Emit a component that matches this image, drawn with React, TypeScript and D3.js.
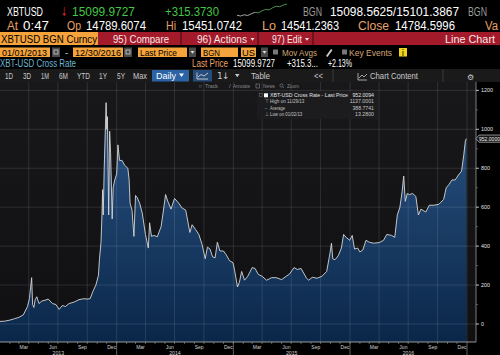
import * as d3 from "d3"
import type { ReactNode } from "react"

// XBT-USD cross rate (date, last price)
const priceDates = [
  "2013-01-01", "2013-01-15", "2013-02-01", "2013-02-15", "2013-03-01", "2013-03-15", "2013-03-28",
  "2013-04-03", "2013-04-10", "2013-04-13", "2013-04-17", "2013-04-21", "2013-04-26", "2013-05-03",
  "2013-05-12", "2013-05-22", "2013-06-01", "2013-06-14", "2013-06-25", "2013-07-05", "2013-07-15",
  "2013-07-25", "2013-08-05", "2013-08-20", "2013-09-05", "2013-09-20", "2013-10-01", "2013-10-10",
  "2013-10-18", "2013-10-28", "2013-11-05", "2013-11-08", "2013-11-13", "2013-11-16", "2013-11-18",
  "2013-11-20", "2013-11-23", "2013-11-29", "2013-12-01", "2013-12-03", "2013-12-07", "2013-12-10",
  "2013-12-13", "2013-12-18", "2013-12-21", "2013-12-26",
  "2014-01-01", "2014-01-05", "2014-01-10", "2014-01-18", "2014-01-26", "2014-02-05", "2014-02-09",
  "2014-02-12", "2014-02-18", "2014-02-24", "2014-03-01", "2014-03-06", "2014-03-14", "2014-03-22",
  "2014-04-01", "2014-04-10", "2014-04-14", "2014-04-20", "2014-04-28", "2014-05-08", "2014-05-20",
  "2014-05-27", "2014-06-03", "2014-06-10", "2014-06-20", "2014-07-01", "2014-07-12", "2014-07-25",
  "2014-08-05", "2014-08-18", "2014-08-25", "2014-09-05", "2014-09-15", "2014-09-25", "2014-10-05",
  "2014-10-12", "2014-10-20", "2014-10-28", "2014-11-05", "2014-11-12", "2014-11-20", "2014-12-01",
  "2014-12-10", "2014-12-20", "2014-12-31",
  "2015-01-05", "2015-01-14", "2015-01-20", "2015-01-27", "2015-02-05", "2015-02-15", "2015-03-01",
  "2015-03-10", "2015-03-20", "2015-04-01", "2015-04-15", "2015-05-01", "2015-05-15", "2015-06-01",
  "2015-06-15", "2015-06-25", "2015-07-10", "2015-07-20", "2015-08-01", "2015-08-18", "2015-08-25",
  "2015-09-05", "2015-09-20", "2015-10-05", "2015-10-20", "2015-10-30", "2015-11-04", "2015-11-08",
  "2015-11-15", "2015-11-25", "2015-12-05", "2015-12-12", "2015-12-20", "2015-12-31",
  "2016-01-08", "2016-01-15", "2016-01-25", "2016-02-01", "2016-02-10", "2016-02-20", "2016-03-01",
  "2016-03-15", "2016-04-01", "2016-04-15", "2016-04-25", "2016-05-10", "2016-05-20", "2016-05-28",
  "2016-06-05", "2016-06-12", "2016-06-17", "2016-06-22", "2016-06-28", "2016-07-05", "2016-07-15",
  "2016-07-25", "2016-08-02", "2016-08-10", "2016-08-25", "2016-09-05", "2016-09-20", "2016-10-05",
  "2016-10-20", "2016-10-28", "2016-11-05", "2016-11-15", "2016-11-25", "2016-12-05", "2016-12-15",
  "2016-12-22", "2016-12-27", "2016-12-30"
]
const priceValues = [
  13.3, 14.5, 20, 27, 34, 47, 90,
  130, 238, 100, 85, 125, 140, 105,
  118, 122, 128, 105, 100, 75, 95,
  90, 105, 112, 125, 130, 128, 130,
  165, 200, 250, 330, 420, 560, 690,
  560, 800, 1137, 1000, 1065, 560, 990,
  880, 540, 700, 740,
  770, 920, 840, 840, 815, 800, 740,
  620, 585, 450, 660, 650, 620, 570,
  460, 390, 520, 450, 455, 448, 500,
  580, 665, 630, 590, 645, 625, 595,
  585, 470, 510, 485, 460, 410, 335,
  395, 385, 345, 340, 420, 375, 375,
  355, 325, 315,
  275, 190, 215, 270, 225, 245, 290,
  285, 255, 245, 225, 238, 238, 228,
  245, 255, 290, 280, 285, 235, 225,
  240, 235, 245, 270, 360, 415, 335,
  330, 350, 390, 460, 445, 430,
  455, 385, 390, 370, 380, 430, 420,
  415, 418, 430, 460, 455, 445, 560,
  600, 680, 760, 630, 670, 665, 670,
  655, 560, 590, 575, 610, 610, 615,
  640, 700, 715, 740, 740, 765, 785,
  870, 940, 952
]

const yTicks = [0, 200, 400, 600, 800, 1000, 1200]
const yMinor = [100, 300, 500, 700, 900, 1100]
const monthLabels = ["Mar", "Jun", "Sep", "Dec"]
const years = [2013, 2014, 2015, 2016]
const sparkValues = [14640, 14610, 14660, 14630, 14700, 14760, 14740, 14820, 14880, 14860, 14950, 15010, 14990, 15060, 15100]

const legendRows = [
  { mark: "■", label: "XBT-USD Cross Rate - Last Price", value: "952.0094" },
  { mark: "⊤", label: "High on 11/29/13", value: "1137.0001" },
  { mark: "–", label: "Average", value: "388.7741" },
  { mark: "⊥", label: "Low on 01/02/13", value: "13.2800" }
]

const T = ({ x, y, w, s = 11, fill = "#fff", children, font }: {
  x: number; y: number; w?: number; s?: number; fill?: string; children: ReactNode; font?: string
}) => (
  <text x={x} y={y} fontSize={s} fill={fill} fontFamily={font}
    textLength={w} lengthAdjust={w ? "spacingAndGlyphs" : undefined}>
    {children}
  </text>
)

// small dropdown caret
const Caret = ({ x, y, s = 4, fill }: { x: number; y: number; s?: number; fill: string }) => (
  <path d={`M${x},${y} L${x + s},${y} L${x + s / 2},${y + s * 0.7} Z`} fill={fill} />
)

const App = () => {
  const W = 500
  const H = 355
  const plotTop = 82
  const plotBottom = 342
  const plotRight = 476

  const parse = d3.timeParse("%Y-%m-%d")
  const series = priceDates.map((d, i) => ({ date: parse(d) as Date, value: priceValues[i] }))

  const x = d3.scaleTime()
    .domain([new Date(2013, 0, 1), new Date(2017, 0, 1)])
    .range([0, 467])
  const y = d3.scaleLinear().domain([0, 1000]).range([324, 129.3])

  const area = d3.area<{ date: Date; value: number }>()
    .x(d => x(d.date))
    .y0(plotBottom)
    .y1(d => y(d.value))
  const line = d3.line<{ date: Date; value: number }>()
    .x(d => x(d.date))
    .y(d => y(d.value))

  const quarters = d3.timeMonth.every(3)!.range(new Date(2013, 3, 1), new Date(2017, 0, 2))
  const months = d3.timeMonth.range(new Date(2013, 1, 1), new Date(2017, 0, 1))

  // sparkline next to the headline quote
  const sx = d3.scaleLinear().domain([0, sparkValues.length - 1]).range([237, 287])
  const sy = d3.scaleLinear().domain(d3.extent(sparkValues) as [number, number]).range([16, 4])
  const spark = d3.line<[number, number]>().x(d => sx(d[0])).y(d => sy(d[1]))
  const sparkPts = sparkValues.map((v, i) => [i, v] as [number, number])

  const last = priceValues[priceValues.length - 1]
  const lastY = y(last)

  const tan = "#e8a26a"
  const orange = "#f5a33a"
  const red = "#a31a2b"
  const dejavu = "DejaVu Sans"

  return (
    <div style={{ position: "fixed", left: 0, top: 0, background: "#000" }}>
      <svg width={W} height={H} style={{ display: "block" }} fontFamily="Liberation Sans, Arial, sans-serif">
        <defs>
          <linearGradient id="fillGrad" gradientUnits="userSpaceOnUse" x1={0} y1={100} x2={0} y2={plotBottom}>
            <stop offset="0%" stopColor="#2b5485" />
            <stop offset="100%" stopColor="#0a2749" />
          </linearGradient>
          <linearGradient id="bgGrad" gradientUnits="userSpaceOnUse" x1={0} y1={plotTop} x2={0} y2={plotBottom}>
            <stop offset="0%" stopColor="#18181a" />
            <stop offset="100%" stopColor="#101012" />
          </linearGradient>
        </defs>
        <rect width={W} height={H} fill="#000" />

        {/* row 1: headline quote */}
        <T x={7} y={16} w={36} s={12.5}>XBTUSD</T>
        <T x={61} y={16} w={6} s={12.5} fill="#e0242a" font={dejavu}>↓</T>
        <T x={72} y={16} w={63} s={12.5} fill="#45c545">15099.9727</T>
        <T x={165} y={16} w={54} s={12.5} fill="#45c545">+315.3730</T>
        <path d={spark(sparkPts.slice(0, 6)) || ""} fill="none" stroke="#cfcfcf" strokeWidth={0.8} />
        <path d={spark(sparkPts.slice(5)) || ""} fill="none" stroke="#5fb25f" strokeWidth={0.8} />
        <T x={303} y={16} w={19} s={12.5} fill="#9b9b9b">BGN</T>
        <T x={330} y={16} w={129} s={12.5}>15098.5625/15101.3867</T>
        <T x={468} y={16} w={19} s={12.5} fill="#9b9b9b">BGN</T>

        {/* row 2 */}
        <T x={7} y={29.5} w={11} s={12.5} fill={tan}>At</T>
        <T x={23} y={29.5} w={26} s={12.5}>0:47</T>
        <T x={67} y={29.5} w={14} s={12.5} fill={tan}>Op</T>
        <T x={86} y={29.5} w={60} s={12.5}>14789.6074</T>
        <T x={166} y={29.5} w={10} s={12.5} fill={tan}>Hi</T>
        <T x={182} y={29.5} w={60} s={12.5}>15451.0742</T>
        <T x={262} y={29.5} w={14} s={12.5} fill={tan}>Lo</T>
        <T x={281} y={29.5} w={58} s={12.5}>14541.2363</T>
        <T x={358} y={29.5} w={31} s={12.5} fill={tan}>Close</T>
        <T x={395} y={29.5} w={60} s={12.5}>14784.5996</T>
        <T x={485} y={29.5} w={13} s={12.5} fill={tan}>Va</T>

        {/* row 3: security / action bar */}
        <rect x={0} y={32} width={98} height={13} fill={orange} />
        <T x={1} y={42.5} w={96} s={11.5} fill="#000">XBTUSD BGN Curncy</T>
        <rect x={98} y={32} width={402} height={13} fill={red} />
        {[181, 258, 313].map(v => <line key={v} x1={v} x2={v} y1={32} y2={45} stroke="#3a0a10" strokeWidth={1} />)}
        <T x={113} y={42.5} w={56} s={11.5} fill="#f6e6e6">95) Compare</T>
        <T x={197} y={42.5} w={50} s={11.5} fill="#f6e6e6">96) Actions</T>
        <Caret x={250.5} y={38} s={4} fill="#f6e6e6" />
        <T x={272} y={42.5} w={30} s={11.5} fill="#f6e6e6">97) Edit</T>
        <Caret x={305} y={38} s={4} fill="#f6e6e6" />
        <T x={445} y={42.5} w={50} s={11.5} fill="#f6e6e6">Line Chart</T>

        {/* row 4: range and field inputs */}
        <rect x={0} y={47.5} width={50} height={9.5} fill={orange} />
        <T x={2} y={55.5} w={45} s={9.5} fill="#000">01/01/2013</T>
        <rect x={52} y={47.5} width={8} height={9.5} fill="#4a4a4a" />
        <rect x={54} y={50} width={4} height={4} fill="none" stroke="#ddd" strokeWidth={0.7} />
        <T x={65} y={55.5} s={9.5} fill="#ddd">-</T>
        <rect x={73} y={47.5} width={50} height={9.5} fill={orange} />
        <T x={75} y={55.5} w={46} s={9.5} fill="#000">12/30/2016</T>
        <rect x={124} y={47.5} width={8} height={9.5} fill="#4a4a4a" />
        <rect x={126} y={50} width={4} height={4} fill="none" stroke="#ddd" strokeWidth={0.7} />
        <rect x={138} y={47.5} width={49} height={9.5} fill={orange} />
        <T x={140} y={55.5} w={37} s={9.5} fill="#000">Last Price</T>
        <rect x={189} y={47.5} width={7} height={9.5} fill="#4a4a4a" />
        <Caret x={190.5} y={51} s={4} fill="#ddd" />
        <rect x={201} y={47.5} width={37} height={9.5} fill={orange} />
        <T x={203} y={55.5} w={17} s={9.5} fill="#000">BGN</T>
        <rect x={241} y={47.5} width={15} height={9.5} fill={orange} />
        <T x={242} y={55.5} w={13} s={9.5} fill="#000">US</T>
        <rect x={261} y={47.5} width={7} height={9.5} fill="#4a4a4a" />
        <Caret x={262.5} y={51} s={4} fill="#ddd" />
        <rect x={273} y={49.5} width={5} height={5} fill="#777" />
        <T x={282} y={55.5} w={35} s={9.5} fill="#d2a676">Mov Avgs</T>
        <path d="M326,56 L331,49 L332.5,50 L327.5,57 Z" fill="#ccc" />
        <rect x={342} y={49.5} width={5} height={5} fill="#777" />
        <T x={349} y={55.5} w={43} s={9.5} fill="#d2a676">Key Events</T>
        <rect x={399} y={48} width={8} height={8.5} fill="#f2d21a" />
        <T x={401.8} y={55.5} s={8} fill="#000" font={dejavu}>i</T>

        {/* row 5: title strip */}
        <T x={0} y={67} w={76} s={10} fill="#6db7d6">XBT-USD Cross Rate</T>
        <T x={192} y={67} w={36} s={10} fill={tan}>Last Price</T>
        <T x={233} y={67} w={42} s={10}>15099.9727</T>
        <T x={287} y={67} w={31} s={10}>+315.3...</T>
        <T x={328} y={67} w={24} s={10}>+2.13%</T>

        {/* row 6: toolbar */}
        <rect x={0} y={69} width={W} height={13} fill="#1a1a1b" />
        {[
          ["1D", 5, 8], ["3D", 23, 8], ["1M", 41, 8], ["6M", 59, 9], ["YTD", 77, 13],
          ["1Y", 99, 8], ["5Y", 117, 8], ["Max", 133, 14]
        ].map(([t, px, w]) => (
          <T key={t as string} x={px as number} y={79} w={w as number} s={9} fill="#c9c9c9">{t}</T>
        ))}
        <rect x={152} y={70} width={37} height={11.5} fill="#2b63a6" />
        <T x={156} y={79} w={20} s={9}>Daily</T>
        <Caret x={179} y={73.5} s={5} fill="#fff" />
        <rect x={193} y={70} width={19} height={11.5} fill="#254c7a" />
        <path d="M197,79 L197,72.5 M197,79 L208,79 M198,77 L201,74.5 L204,76 L208,73" fill="none" stroke="#e8e8e8" strokeWidth={0.8} />
        <T x={217} y={79} s={9} fill="#c9c9c9" font={dejavu}>1</T>
        <T x={222} y={79} s={9} fill="#c9c9c9" font={dejavu}>↓</T>
        <Caret x={235} y={74} s={4.5} fill="#c9c9c9" />
        <T x={251} y={79} w={19} s={9} fill="#c9c9c9">Table</T>
        <T x={314} y={79} w={9} s={9} fill="#c9c9c9">{"<<"}</T>
        <line x1={333} x2={333} y1={69} y2={82} stroke="#3a3a3a" />
        <path d="M358,80 L358,73 M358,80 L367,80 M359,78 L362,75 L364,77 L367,74" fill="none" stroke="#c9c9c9" strokeWidth={0.8} />
        <T x={370} y={79} w={48} s={9} fill="#c9c9c9">Chart Content</T>
        <line x1={443} x2={443} y1={69} y2={82} stroke="#3a3a3a" />
        <T x={467} y={79.5} s={8} fill="#c9c9c9" font={dejavu}>⚙</T>

        {/* plot */}
        <rect x={0} y={plotTop} width={plotRight} height={plotBottom - plotTop} fill="url(#bgGrad)" />
        <path d={area(series) || ""} fill="url(#fillGrad)" />
        {yTicks.map(t => (
          <line key={t} x1={0} x2={plotRight} y1={y(t)} y2={y(t)} stroke="#fff" strokeOpacity={0.14} strokeWidth={0.8} />
        ))}
        {quarters.map(q => (
          <line key={+q} x1={x(q)} x2={x(q)} y1={plotTop} y2={plotBottom} stroke="#fff" strokeOpacity={0.14} strokeWidth={0.8} />
        ))}
        <path d={line(series) || ""} fill="none" stroke="#d6d6d6" strokeWidth={0.9} strokeLinejoin="round" />

        {/* row 7: track / annotate / news / zoom */}
        <T x={198} y={88} s={5} fill="#8a8a8a" font={dejavu}>☆</T>
        <T x={205} y={88} w={13} s={6} fill="#8a8a8a">Track</T>
        <T x={229} y={88} s={6} fill="#8a8a8a">/</T>
        <T x={233} y={88} w={17} s={6} fill="#8a8a8a">Annotate</T>
        <rect x={256} y={84} width={3.5} height={4} fill="none" stroke="#8a8a8a" strokeWidth={0.6} />
        <T x={263} y={88} w={12} s={6} fill="#8a8a8a">News</T>
        <circle cx={281.5} cy={85.5} r={1.6} fill="none" stroke="#8a8a8a" strokeWidth={0.6} />
        <line x1={282.7} y1={86.7} x2={284} y2={88} stroke="#8a8a8a" strokeWidth={0.6} />
        <T x={287} y={88} w={12} s={6} fill="#8a8a8a">Zoom</T>

        {/* legend box */}
        <rect x={257} y={91} width={121} height={28} fill="#1d1d1f" fillOpacity={0.94} />
        <rect x={259.5} y={93.5} width={3} height={3} fill="none" stroke="#777" strokeWidth={0.5} />
        {legendRows.map((r, i) => {
          const by = 97.3 + i * 6.1
          return (
            <g key={r.label}>
              {i === 0
                ? <rect x={264} y={by - 4} width={4} height={4} fill="#fff" />
                : <T x={264.5} y={by} s={5.5} fill="#aaa" font={dejavu}>{r.mark}</T>}
              <T x={270} y={by} w={i === 0 ? 78 : r.label.length * 2.15} s={5.6} fill={i === 0 ? "#e2e2e2" : "#c4c4c4"}>{r.label}</T>
              <text x={374} y={by} fontSize={5.6} fill={i === 0 ? "#e2e2e2" : "#c4c4c4"} textAnchor="end"
                textLength={r.value.length * 2.7} lengthAdjust="spacingAndGlyphs">{r.value}</text>
            </g>
          )
        })}

        {/* right axis */}
        <line x1={plotRight} x2={plotRight} y1={plotTop} y2={plotBottom} stroke="#9a9a9a" strokeWidth={0.8} />
        {yTicks.map(t => (
          <g key={t}>
            <line x1={plotRight} x2={plotRight + 3} y1={y(t)} y2={y(t)} stroke="#eee" strokeWidth={0.8} />
            <text x={481} y={y(t) + 2} fontSize={5.4} fill="#e0e0e0">{t}</text>
          </g>
        ))}
        {yMinor.map(t => (
          <line key={t} x1={plotRight} x2={plotRight + 2} y1={y(t)} y2={y(t)} stroke="#888" strokeWidth={0.6} />
        ))}
        <path d={`M${plotRight},${lastY} L${plotRight + 3},${lastY - 3.6} L502,${lastY - 3.6} L502,${lastY + 3.6} L${plotRight + 3},${lastY + 3.6} Z`}
          fill="#161616" stroke="#dedede" strokeWidth={0.6} />
        <text x={479} y={lastY + 1.9} fontSize={5.4} fill="#f2f2f2" textLength={21} lengthAdjust="spacingAndGlyphs">{last.toFixed(4)}</text>

        {/* bottom axis */}
        <line x1={0} x2={plotRight} y1={plotBottom} y2={plotBottom} stroke="#bdbdbd" strokeWidth={0.8} />
        {months.map(m => (
          <line key={+m} x1={x(m)} x2={x(m)} y1={plotBottom} y2={plotBottom + 2} stroke="#9a9a9a" strokeWidth={0.6} />
        ))}
        {years.map(yr => (
          <g key={yr}>
            {monthLabels.map((ml, k) => {
              const m0 = new Date(yr, 2 + k * 3, 1)
              const m1 = new Date(yr, 3 + k * 3, 1)
              return (
                <text key={ml} x={(x(m0) + x(m1)) / 2} y={348.5} fontSize={5} fill="#d0d0d0" textAnchor="middle">{ml}</text>
              )
            })}
            <text x={(x(new Date(yr, 0, 1)) + x(new Date(yr + 1, 0, 1))) / 2} y={355} fontSize={5.2} fill="#d0d0d0" textAnchor="middle">{yr}</text>
            <line x1={x(new Date(yr + 1, 0, 1))} x2={x(new Date(yr + 1, 0, 1))} y1={plotBottom} y2={H} stroke="#8a8a8a" strokeWidth={0.7} />
          </g>
        ))}
      </svg>
    </div>
  )
}

export default App
